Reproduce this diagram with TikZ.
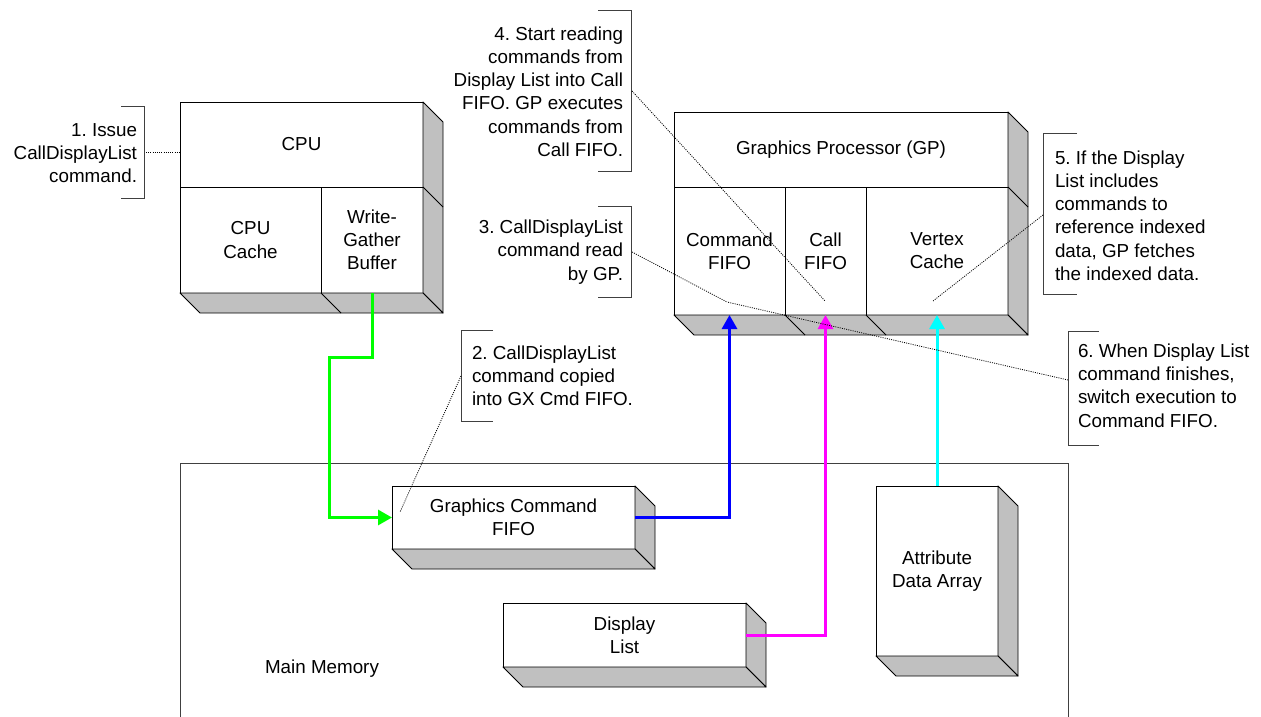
\documentclass[tikz,border=0pt]{standalone}
\usepackage{fontspec}
\setmainfont{Liberation Sans}
\usetikzlibrary{arrows.meta,calc}
\frenchspacing

\definecolor{facegray}{HTML}{C0C0C0}
\definecolor{framegray}{HTML}{404040}
\definecolor{flowgreen}{HTML}{00FF00}
\definecolor{flowblue}{HTML}{0000FF}
\definecolor{flowmagenta}{HTML}{FF00FF}
\definecolor{flowcyan}{HTML}{00FFFF}

% side and bottom faces of a box drawn in depth: #1 top-right, #2 bottom-right, #3 bottom-left corner
\newcommand\depthfaces[3]{%
  \filldraw[face] (#1) -- ++(20,20) -- ($(#2)+(20,20)$) -- (#2) -- cycle;
  \filldraw[face] (#3) -- ++(20,20) -- ($(#2)+(20,20)$) -- (#2) -- cycle;
}

\begin{document}
\begin{tikzpicture}[x=1pt,y=-1pt,
  font=\fontsize{18.8}{23.2}\selectfont,
  part/.style={draw=black, fill=white, line width=0.9pt, inner sep=0pt, outer sep=0pt,
               anchor=north west, align=center},
  face/.style={draw=black, fill=facegray, line width=0.9pt, line join=round},
  note/.style={inner sep=0pt, outer sep=0pt},
  bracket/.style={draw=framegray, line width=0.9pt},
  leader/.style={draw=black, line width=0.8pt, dash pattern=on 1pt off 1.2pt},
  flow/.style={line width=3pt, -{Triangle[length=14pt,width=15pt]}},
]
\useasboundingbox (0,0) rectangle (1261,717);

% main memory frame
\draw[framegray, line width=0.9pt] (180,720) -- (180,463) -- (1068,463) -- (1068,720);
\node[note] (memlabel) at (322,669) {Main Memory};

% CPU
\node[part, minimum width=243pt, minimum height=85pt] (cpu) at (180,102) {CPU};
\node[part, minimum width=141pt, minimum height=106pt] (cpucache) at (180,187) {CPU\\Cache};
\node[part, minimum width=102pt, minimum height=106pt] (wgb) at (321,187) {Write-\\Gather\\Buffer};
\depthfaces{cpu.north east}{wgb.south east}{cpucache.south west}
\draw[face] (cpu.south east) -- ++(20,20);
\draw[face] (wgb.south west) -- ++(20,20);

% graphics processor
\node[part, minimum width=334pt, minimum height=75pt] (gp) at (674,112) {Graphics Processor (GP)};
\node[part, minimum width=111pt, minimum height=128pt] (cmdfifo) at (674,187) {Command\\FIFO};
\node[part, minimum width=81pt, minimum height=128pt] (callfifo) at (785,187) {Call\\FIFO};
\node[part, minimum width=142pt, minimum height=128pt] (vcache) at (866,187) {Vertex\\Cache};
\depthfaces{gp.north east}{vcache.south east}{cmdfifo.south west}
\draw[face] (gp.south east) -- ++(20,20);
\draw[face] (callfifo.south west) -- ++(20,20);
\draw[face] (vcache.south west) -- ++(20,20);

% memory blocks
\node[part, minimum width=243pt, minimum height=63pt] (gcf) at (392,486) {Graphics Command\\FIFO};
\depthfaces{gcf.north east}{gcf.south east}{gcf.south west}
\node[part, minimum width=243pt, minimum height=64pt] (dl) at (503,603) {Display\\List};
\depthfaces{dl.north east}{dl.south east}{dl.south west}
\node[part, minimum width=122pt, minimum height=170pt] (ada) at (876,486) {Attribute\\Data Array};
\depthfaces{ada.north east}{ada.south east}{ada.south west}

% data flows
\draw[flow, flowgreen] (wgb.south) -- ++(0,64) -- ++(-43,0) |- (gcf.west);
\draw[flow, flowblue] (gcf.east) -| (cmdfifo.south);
\draw[flow, flowmagenta] (dl.east) -| (callfifo.south);
\draw[flow, flowcyan] (ada.north) -- (vcache.south);

% step notes
\node[note, anchor=east, align=right] (n1) at (137,153) {1. Issue\\CallDisplayList\\command.};
\node[note, anchor=west, align=left] (n2) at (472,375.5) {2. CallDisplayList\\command copied\\into GX Cmd FIFO.};
\node[note, anchor=east, align=right] (n3) at (623,252) {3. CallDisplayList\\command read\\by GP.};
\node[note, anchor=east, align=right] (n4) at (623,91.5) {4. Start reading\\commands from\\Display List into Call\\FIFO. GP executes\\commands from\\Call FIFO.};
\node[note, anchor=west, align=left] (n5) at (1055,215.5) {5. If the Display\\List includes\\commands to\\reference indexed\\data, GP fetches\\the indexed data.};
\node[note, anchor=west, align=left] (n6) at (1078,385.5) {6. When Display List\\command finishes,\\switch execution to\\Command FIFO.};

% note brackets
\draw[bracket] (121,106) -- (144,106) -- (144,198) -- (121,198);
\draw[bracket] (493,330) -- (461,330) -- (461,421) -- (493,421);
\draw[bracket] (598,206) -- (631,206) -- (631,297) -- (598,297);
\draw[bracket] (598,10) -- (631,10) -- (631,171) -- (598,171);
\draw[bracket] (1077,133) -- (1043,133) -- (1043,294) -- (1077,294);
\draw[bracket] (1099,331) -- (1068,331) -- (1068,445) -- (1099,445);

% leader lines from the notes
\coordinate (b1) at (146,152);
\coordinate (b2) at (461,376);
\coordinate (b3) at (632,252);
\coordinate (b4) at (632,91);
\coordinate (b5) at (1043,215);
\coordinate (b6) at (1068,380);
\coordinate (t2) at (400,512);
\coordinate (t3) at (727,302);
\coordinate (t4) at (825,301);
\coordinate (t5) at (933,301);
\draw[leader] (b1) -- (cpu.west |- b1);
\draw[leader] (b2) -- (t2);
\draw[leader] (b3) -- (t3);
\draw[leader] (b4) -- (t4);
\draw[leader] (b5) -- (t5);
\draw[leader] (b6) -- (t3);
\end{tikzpicture}
\end{document}
